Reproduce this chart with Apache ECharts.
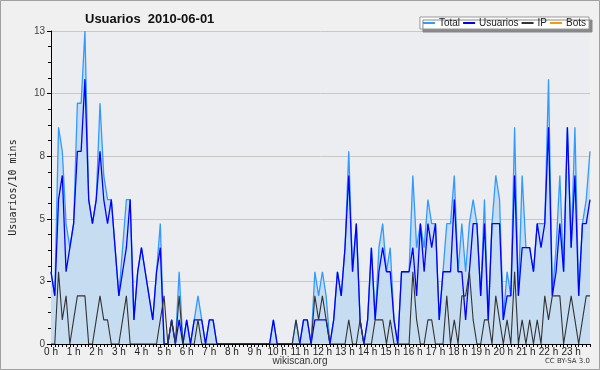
<!DOCTYPE html>
<html>
<head>
<meta charset="utf-8">
<script src="https://cdn.jsdelivr.net/npm/echarts@6/dist/echarts.min.js"></script>
<style>
  html, body { margin: 0; padding: 0; background: #f0f0f0; }
  #main { width: 600px; height: 370px; }
</style>
</head>
<body>
<div id="main"></div>
<script>
// one point every 10 minutes, 2010-06-01
var hours = ['0 h','1 h','2 h','3 h','4 h','5 h','6 h','7 h','8 h','9 h','10 h','11 h',
             '12 h','13 h','14 h','15 h','16 h','17 h','18 h','19 h','20 h','21 h','22 h','23 h'];

var total = [3,2,9,8,5,4,5,10,10,13,6,5,6,10,7,6,6,4,2,4,6,6,1,3,4,3,2,1,3,5,
             0,0,1,0,3,0,1,0,1,2,1,0,1,1,0,0,0,0,0,0,0,0,0,0,0,0,0,0,0,1,
             0,0,0,0,0,1,0,1,1,0,3,2,3,2,0,1,3,2,4,8,3,5,1,0,1,4,1,4,5,3,
             4,1,0,3,3,3,7,4,5,4,6,5,5,1,3,5,5,7,3,5,3,5,6,5,2,6,1,5,7,6,
             1,3,2,9,2,7,4,4,3,5,5,5,11,2,4,7,3,9,4,9,2,5,6,8];
var usuarios = [3,2,6,7,3,4,5,8,8,11,6,5,6,8,6,5,6,4,2,3,4,6,1,3,4,3,2,1,3,4,
                0,0,1,0,1,0,1,0,1,1,1,0,1,1,0,0,0,0,0,0,0,0,0,0,0,0,0,0,0,1,
                0,0,0,0,0,0,0,1,1,0,1,1,1,1,0,1,3,2,4,7,3,5,1,0,1,4,1,3,4,3,
                3,1,0,3,3,3,4,2,5,3,5,4,5,1,3,3,3,6,3,3,1,3,5,5,2,5,1,5,5,5,
                1,2,2,7,2,4,4,4,3,5,4,5,9,2,3,5,3,9,4,7,2,5,5,6];
var ip = [0,0,3,1,2,0,1,2,2,2,0,0,1,2,1,1,0,0,0,1,2,0,0,0,0,0,0,0,0,1,
          2,0,1,0,2,0,0,0,0,1,0,0,0,0,0,0,0,0,0,0,0,0,0,0,0,0,0,0,0,0,
          0,0,0,0,0,1,0,0,0,0,2,1,2,1,0,0,0,0,0,1,0,0,1,0,0,0,1,1,1,0,
          1,0,0,0,0,0,3,1,0,0,1,1,0,0,0,2,0,1,0,2,2,3,1,0,0,1,1,0,2,1,
          0,1,0,3,0,1,0,1,0,1,0,2,1,2,2,2,0,1,2,1,0,1,2,2];
var bots = [];
for (var k = 0; k < total.length; k++) bots.push(0);

var yTicks = [0, 3, 5, 8, 10, 13];

var categories = [];
for (var i = 0; i < total.length; i++) {
  categories.push(i % 6 === 0 ? hours[i / 6] : '');
}

var myChart = echarts.init(document.getElementById('main'));

var option = {
  backgroundColor: '#f0f0f0',
  animation: false,
  textStyle: { fontFamily: 'Liberation Sans' },
  title: {
    text: 'Usuarios  2010-06-01',
    left: 80,
    top: 8,
    textStyle: { fontFamily: 'Liberation Sans', fontSize: 13, fontWeight: 'bold', color: '#111' }
  },
  legend: {
    right: 11,
    top: 17,
    padding: [1, 3, 1, 3],
    itemGap: 3,
    itemWidth: 12,
    itemHeight: 2,
    icon: 'rect',
    backgroundColor: '#ffffff',
    borderColor: '#999',
    borderWidth: 1,
    shadowColor: '#888',
    shadowOffsetX: 3,
    shadowOffsetY: 3,
    shadowBlur: 0,
    textStyle: { fontFamily: 'Liberation Sans', fontSize: 10, color: '#222', padding: [0, 0, 0, -1] },
    data: ['Total', 'Usuarios', 'IP', 'Bots']
  },
  grid: {
    left: 46, right: 10, top: 31, bottom: 26,
    show: true, backgroundColor: '#ecedf0', borderWidth: 0
  },
  xAxis: {
    type: 'category',
    data: categories,
    boundaryGap: false,
    z: 5,
    axisLine: { lineStyle: { color: '#000', width: 1 } },
    axisTick: { interval: 0, length: 3, lineStyle: { color: '#000' } },
    axisLabel: {
      interval: 0, margin: 3, fontSize: 10, color: '#222', fontFamily: 'Liberation Sans',
      hideOverlap: false
    },
    splitLine: { show: false }
  },
  yAxis: {
    type: 'value',
    min: 0,
    max: 13,
    interval: 2.6,
    name: 'Usuarios/10 mins',
    nameLocation: 'middle',
    nameGap: 33,
    nameTextStyle: { fontFamily: 'DejaVu Sans Mono', fontSize: 10, color: '#222' },
    axisLine: { show: true, lineStyle: { color: '#000' } },
    axisTick: { show: true, length: 4, lineStyle: { color: '#000' } },
    minorTick: { show: true, splitNumber: 4, length: 3, lineStyle: { color: '#000' } },
    axisLabel: {
      margin: 6, fontSize: 10, color: '#444', fontFamily: 'Liberation Sans',
      formatter: function (v) { return yTicks[Math.round(v / 2.6)]; }
    },
    splitLine: { lineStyle: { color: '#c8c8c8', width: 1 } }
  },
  series: [
    {
      name: 'Bots', type: 'line', data: bots, z: 1,
      symbol: 'none', color: '#ff9900', lineStyle: { width: 1.2 }
    },
    {
      name: 'Total', type: 'line', data: total, z: 2,
      symbol: 'none', color: '#3399ff',
      lineStyle: { width: 1.3 },
      areaStyle: { color: '#c6dcf0', opacity: 1 }
    },
    {
      name: 'Usuarios', type: 'line', data: usuarios, z: 3,
      symbol: 'none', color: '#0000ff', lineStyle: { width: 1.3 }
    },
    {
      name: 'IP', type: 'line', data: ip, z: 4,
      symbol: 'none', color: '#333333', lineStyle: { width: 1.1 }
    }
  ],
  graphic: [
    {
      type: 'rect', silent: true,
      shape: { x: 0.5, y: 0.5, width: 599, height: 369 },
      style: { fill: 'none', stroke: '#a0a0a0', lineWidth: 1 }
    },
    {
      type: 'text', left: 'center', top: 356,
      style: { text: 'wikiscan.org', fontSize: 10, fill: '#333', fontFamily: 'Liberation Sans' }
    },
    {
      type: 'text', right: 10, top: 358,
      style: { text: 'CC BY-SA 3.0', fontSize: 7, fill: '#333', fontFamily: 'DejaVu Sans' }
    }
  ]
};

myChart.setOption(option);
</script>
</body>
</html>
